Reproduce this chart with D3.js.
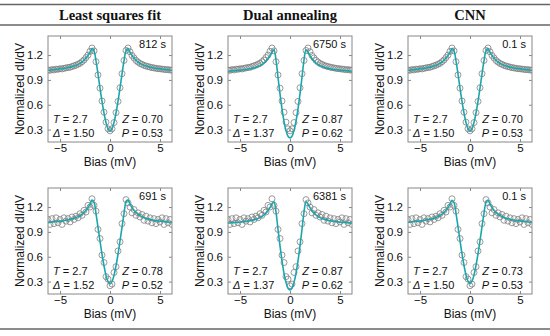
<!DOCTYPE html>
<meta charset="utf-8">
<style>
body { margin: 0; background: #fff; }
svg { display: block; }
.head { font-family: "Liberation Serif", "Times New Roman", serif; font-weight: bold; font-size: 14.5px; fill: #111; }
.rule { stroke: #666; stroke-width: 1.5; }
.box { fill: none; stroke: #888; stroke-width: 1; }
.axis text { font-family: "Liberation Sans", Arial, sans-serif; font-size: 11.5px; fill: #111; }
.axis path { display: none; }
.axis line { stroke: #888; }
.lbl { font-family: "Liberation Sans", Arial, sans-serif; font-size: 12px; fill: #111; }
.note { font-family: "Liberation Sans", Arial, sans-serif; font-size: 11px; fill: #111; }
.pts circle { fill: none; stroke: #808080; stroke-width: 0.8; }
.fit { fill: none; stroke: #1aa6ad; stroke-width: 1.6; }
</style>
<svg width="550" height="336"></svg>
<script src="https://cdn.jsdelivr.net/npm/d3@7"></script>
<script>

// bias grid (mV)
var bias = [-6.2, -6.0, -5.8, -5.6, -5.4, -5.2, -5.0, -4.8, -4.6, -4.4, -4.2, -4.0, -3.8, -3.6, -3.4, -3.2,
  -3.0, -2.8, -2.6, -2.4, -2.2, -2.0, -1.8, -1.6, -1.4, -1.2, -1.0, -0.8, -0.6, -0.4, -0.2, 0.0,
  0.2, 0.4, 0.6, 0.8, 1.0, 1.2, 1.4, 1.6, 1.8, 2.0, 2.2, 2.4, 2.6, 2.8, 3.0,
  3.2, 3.4, 3.6, 3.8, 4.0, 4.2, 4.4, 4.6, 4.8, 5.0, 5.2, 5.4, 5.6, 5.8, 6.0, 6.2];

// measured spectra (top row: clean, bottom row: noisy)
var dataClean = [1.020, 1.015, 1.025, 1.020, 1.030, 1.028, 1.035, 1.032, 1.040, 1.045, 1.050, 1.052, 1.062, 1.070, 1.078, 1.090,
  1.100, 1.120, 1.140, 1.170, 1.200, 1.245, 1.285, 1.250, 1.120, 0.960, 0.800, 0.645, 0.510, 0.390, 0.310, 0.285,
  0.310, 0.385, 0.505, 0.640, 0.805, 0.975, 1.135, 1.255, 1.285, 1.240, 1.195, 1.165, 1.135, 1.115, 1.098,
  1.088, 1.075, 1.068, 1.060, 1.055, 1.048, 1.045, 1.040, 1.035, 1.034, 1.030, 1.028, 1.022, 1.025, 1.018, 1.020];

var dataNoisy = [1.05, 0.99, 1.06, 1.00, 1.07, 1.01, 1.05, 0.99, 1.07, 1.03, 1.06, 1.02, 1.08, 1.05, 1.09, 1.07,
  1.12, 1.10, 1.16, 1.14, 1.22, 1.20, 1.30, 1.22, 1.15, 0.93, 0.82, 0.62, 0.53, 0.36, 0.33, 0.25,
  0.27, 0.41, 0.48, 0.67, 0.78, 1.00, 1.12, 1.29, 1.25, 1.20, 1.13, 1.17, 1.10, 1.13, 1.08,
  1.11, 1.04, 1.09, 1.03, 1.07, 1.01, 1.06, 1.00, 1.05, 1.02, 1.07, 0.99, 1.06, 1.01, 1.05, 0.99];

// fitted curves
var fitA = [1.015, 1.018, 1.021, 1.024, 1.027, 1.030, 1.033, 1.036, 1.040, 1.044, 1.049, 1.054, 1.060, 1.067, 1.076, 1.087,
  1.100, 1.116, 1.137, 1.163, 1.196, 1.236, 1.280, 1.250, 1.130, 0.970, 0.800, 0.640, 0.500, 0.385, 0.310, 0.280,
  0.310, 0.385, 0.500, 0.640, 0.800, 0.970, 1.130, 1.250, 1.280, 1.236, 1.196, 1.163, 1.137, 1.116, 1.100,
  1.087, 1.076, 1.067, 1.060, 1.054, 1.049, 1.044, 1.040, 1.036, 1.033, 1.030, 1.027, 1.024, 1.021, 1.018, 1.015];

var fitDA = [1.005, 1.008, 1.010, 1.012, 1.014, 1.016, 1.018, 1.020, 1.023, 1.026, 1.030, 1.034, 1.039, 1.045, 1.052, 1.061,
  1.072, 1.086, 1.104, 1.127, 1.155, 1.192, 1.238, 1.262, 1.140, 0.930, 0.730, 0.550, 0.400, 0.290, 0.220, 0.200,
  0.220, 0.290, 0.400, 0.550, 0.730, 0.930, 1.140, 1.262, 1.238, 1.192, 1.155, 1.127, 1.104, 1.086, 1.072,
  1.061, 1.052, 1.045, 1.039, 1.034, 1.030, 1.026, 1.023, 1.020, 1.018, 1.016, 1.014, 1.012, 1.010, 1.008, 1.005];

var fitB = [1.012, 1.015, 1.018, 1.021, 1.024, 1.027, 1.030, 1.033, 1.037, 1.041, 1.046, 1.051, 1.057, 1.064, 1.073, 1.084,
  1.097, 1.113, 1.134, 1.160, 1.194, 1.236, 1.284, 1.260, 1.120, 0.955, 0.790, 0.630, 0.490, 0.375, 0.300, 0.272,
  0.300, 0.375, 0.490, 0.630, 0.790, 0.955, 1.120, 1.260, 1.284, 1.236, 1.194, 1.160, 1.134, 1.113, 1.097,
  1.084, 1.073, 1.064, 1.057, 1.051, 1.046, 1.041, 1.037, 1.033, 1.030, 1.027, 1.024, 1.021, 1.018, 1.015, 1.012];

var fitC = [1.014, 1.017, 1.020, 1.023, 1.026, 1.029, 1.032, 1.035, 1.039, 1.043, 1.048, 1.053, 1.059, 1.066, 1.075, 1.086,
  1.099, 1.115, 1.136, 1.162, 1.195, 1.236, 1.282, 1.255, 1.125, 0.962, 0.795, 0.635, 0.495, 0.380, 0.305, 0.275,
  0.305, 0.380, 0.495, 0.635, 0.795, 0.962, 1.125, 1.255, 1.282, 1.236, 1.195, 1.162, 1.136, 1.115, 1.099,
  1.086, 1.075, 1.066, 1.059, 1.053, 1.048, 1.043, 1.039, 1.035, 1.032, 1.029, 1.026, 1.023, 1.020, 1.017, 1.014];

var methods = ["Least squares fit", "Dual annealing", "CNN"];
var runTimes = ["812 s", "6750 s", "0.1 s", "691 s", "6381 s", "0.1 s"];
var tVals = ["2.7", "2.7", "2.7", "2.7", "2.7", "2.7"];
var deltaVals = ["1.50", "1.37", "1.50", "1.52", "1.37", "1.50"];
var zVals = ["0.70", "0.87", "0.70", "0.78", "0.87", "0.73"];
var pVals = ["0.53", "0.62", "0.53", "0.52", "0.62", "0.53"];
var xTicks = [-5, 0, 5];
var yTicks = [0.3, 0.6, 0.9, 1.2];

var panelData = [dataClean, dataClean, dataClean, dataNoisy, dataNoisy, dataNoisy];
var panelFit = [fitA, fitDA, fitA, fitB, fitDA, fitC];

var svg = d3.select("svg");

var w = 124, h = 106;

var x = d3.scaleLinear().domain([-6.2, 6.2]).range([0, w]);
var y = d3.scaleLinear().domain([0.15, 1.43]).range([h, 0]);

var line = d3.line()
    .x(function(d, i) { return x(bias[i]); })
    .y(function(d) { return y(d); })
    .curve(d3.curveCatmullRom);

// table rules and header
svg.append("line").attr("class", "rule").attr("x1", 0).attr("x2", 550).attr("y1", 4.5).attr("y2", 4.5);
svg.append("line").attr("class", "rule").attr("x1", 0).attr("x2", 550).attr("y1", 25).attr("y2", 25);
svg.append("line").attr("class", "rule").attr("x1", 0).attr("x2", 550).attr("y1", 329).attr("y2", 329);

svg.selectAll(".head")
    .data(methods)
  .enter().append("text")
    .attr("class", "head")
    .attr("x", function(d, i) { return 48 + i * 180 + w / 2; })
    .attr("y", 20)
    .attr("text-anchor", "middle")
    .text(function(d) { return d; });

svg.append("defs").append("clipPath")
    .attr("id", "clip")
  .append("rect")
    .attr("width", w)
    .attr("height", h);

d3.range(6).forEach(function(i) {
  var col = i % 3, row = Math.floor(i / 3);
  var g = svg.append("g")
      .attr("transform", "translate(" + (48 + col * 180) + "," + (36 + row * 152) + ")");

  g.append("g")
      .attr("class", "axis")
      .attr("transform", "translate(0," + h + ")")
      .call(d3.axisBottom(x).tickValues(xTicks).tickSize(-3).tickPadding(2));
  g.append("g")
      .attr("class", "axis")
      .call(d3.axisTop(x).tickValues(xTicks).tickSize(-3).tickFormat(""));
  g.append("g")
      .attr("class", "axis")
      .call(d3.axisLeft(y).tickValues(yTicks).tickSize(-3).tickPadding(5).tickFormat(d3.format(".1f")));
  g.append("g")
      .attr("class", "axis")
      .attr("transform", "translate(" + w + ",0)")
      .call(d3.axisRight(y).tickValues(yTicks).tickSize(-3).tickFormat(""));

  var plot = g.append("g").attr("clip-path", "url(#clip)");

  plot.append("g")
      .attr("class", "pts")
    .selectAll("circle")
      .data(panelData[i])
    .enter().append("circle")
      .attr("cx", function(d, j) { return x(bias[j]); })
      .attr("cy", function(d) { return y(d); })
      .attr("r", 3);

  plot.append("path")
      .datum(panelFit[i])
      .attr("class", "fit")
      .attr("d", line);

  g.append("rect")
      .attr("class", "box")
      .attr("width", w)
      .attr("height", h);

  g.append("text")
      .attr("class", "lbl")
      .attr("x", w / 2)
      .attr("y", h + 24)
      .attr("text-anchor", "middle")
      .text("Bias (mV)");

  g.append("text")
      .attr("class", "lbl")
      .attr("transform", "translate(-24," + (h / 2) + ") rotate(-90)")
      .attr("text-anchor", "middle")
      .text("Normalized dI/dV");

  g.append("text")
      .attr("class", "note")
      .attr("x", w - 6)
      .attr("y", 12)
      .attr("text-anchor", "end")
      .text(runTimes[i]);

  var tl = g.append("text").attr("class", "note").attr("x", 5).attr("y", h - 19);
  tl.append("tspan").attr("font-style", "italic").text("T");
  tl.append("tspan").text(" = " + tVals[i]);

  var dl = g.append("text").attr("class", "note").attr("x", 5).attr("y", h - 5);
  dl.append("tspan").attr("font-style", "italic").text("\u0394");
  dl.append("tspan").text(" = " + deltaVals[i]);

  var zl = g.append("text").attr("class", "note").attr("x", w - 9).attr("y", h - 19).attr("text-anchor", "end");
  zl.append("tspan").attr("font-style", "italic").text("Z");
  zl.append("tspan").text(" = " + zVals[i]);

  var pl = g.append("text").attr("class", "note").attr("x", w - 9).attr("y", h - 5).attr("text-anchor", "end");
  pl.append("tspan").attr("font-style", "italic").text("P");
  pl.append("tspan").text(" = " + pVals[i]);
});

</script>
